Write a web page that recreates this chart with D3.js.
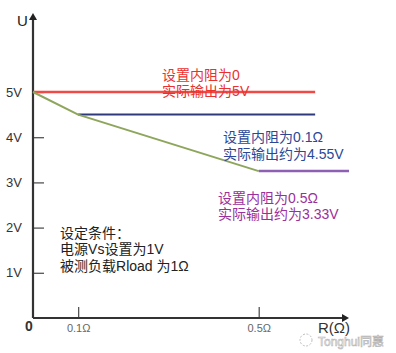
<!DOCTYPE html>
<html lang="zh">
<head>
<meta charset="UTF-8">
<script src="https://d3js.org/d3.v7.min.js"></script>
<style>
  body { margin: 0; background: #fff; }
  text { font-family: "Liberation Sans", Arial, "Noto Sans CJK SC", sans-serif; }
</style>
</head>
<body>
<div id="chart"></div>
<script>
// data (R in ohm, U in volt)
const yTicks = [1, 2, 3, 4, 5];
const yTickLabels = ["1V", "2V", "3V", "4V", "5V"];
const xTicks = [0.1, 0.5];
const xTickLabels = ["0.1Ω", "0.5Ω"];

const curveR = [0, 0.1, 0.5];
const curveU = [5, 4.5, 3.25];

const redR = [0, 0.625];
const redU = [5, 5];
const blueR = [0.1, 0.625];
const blueU = [4.5, 4.5];
const purpleR = [0.5, 0.7];
const purpleU = [3.25, 3.25];

const notes = [
  { lines: ["设置内阻为0", "实际输出为5V"], r: 0.286, u: 5.38, color: "#e8322e" },
  { lines: ["设置内阻为0.1Ω", "实际输出约为4.55V"], r: 0.421, u: 4.0, color: "#2c4796" },
  { lines: ["设置内阻为0.5Ω", "实际输出约为3.33V"], r: 0.41, u: 2.66, color: "#9b2f9b" },
  { lines: ["设定条件：", "电源Vs设置为1V", "被测负载Rload 为1Ω"], r: 0.06, u: 1.88, color: "#222" }
];

const W = 396, H = 353;
const svg = d3.select("#chart").append("svg")
  .attr("width", W).attr("height", H);

const x = d3.scaleLinear().domain([0, 0.7]).range([33, 349]);
const y = d3.scaleLinear().domain([0, 5]).range([318, 92]);

// axes
const yAxis = svg.append("g")
  .attr("transform", "translate(" + x(0) + ",0)")
  .call(d3.axisLeft(y).tickValues(yTicks)
    .tickFormat((d, i) => yTickLabels[i])
    .tickSizeInner(-11).tickSizeOuter(0).tickPadding(11));
yAxis.select(".domain").remove();
yAxis.selectAll("line").attr("stroke", "#555").attr("stroke-width", 1.3);
yAxis.selectAll("text").attr("font-size", 13).attr("fill", "#333")
  .attr("font-family", "Liberation Sans, Arial, sans-serif");

const xAxis = svg.append("g")
  .attr("transform", "translate(0," + y(0) + ")")
  .call(d3.axisBottom(x).tickValues(xTicks)
    .tickFormat((d, i) => xTickLabels[i])
    .tickSizeInner(-11).tickSizeOuter(0).tickPadding(6));
xAxis.select(".domain").remove();
xAxis.selectAll("line").attr("stroke", "#555").attr("stroke-width", 1.3);
xAxis.selectAll("text").attr("font-size", 11).attr("fill", "#666")
  .attr("font-family", "Liberation Sans, Arial, sans-serif");

// axis lines with arrows
const yTop = y(6.75), xEnd = x(0.7);
svg.append("path")
  .attr("d", "M" + x(0) + "," + y(0) + "V" + (yTop + 4) + "M" + x(0) + "," + y(0) + "H" + (xEnd - 3))
  .attr("fill", "none").attr("stroke", "#333").attr("stroke-width", 2.2);
svg.append("path")
  .attr("d", "M" + x(0) + "," + yTop + "l-4,7h8z")
  .attr("fill", "#222");
svg.append("path")
  .attr("d", "M" + xEnd + "," + y(0) + "l-7,-4v8z")
  .attr("fill", "#222");

svg.append("text").attr("x", 17).attr("y", 26).attr("font-size", 15).attr("fill", "#222").text("U");
svg.append("text").attr("x", 25).attr("y", 331).attr("font-size", 14).attr("font-weight", "bold").attr("fill", "#333").text("0");
svg.append("text").attr("x", 318).attr("y", 333).attr("font-size", 15).attr("fill", "#333").text("R(Ω)");

// data lines
const line = d3.line().x(d => x(d[0])).y(d => y(d[1]));
const series = [
  { r: redR, u: redU, color: "#ef4a45", w: 2.5 },
  { r: blueR, u: blueU, color: "#2f3a7c", w: 2 },
  { r: curveR, u: curveU, color: "#8ea65c", w: 2 },
  { r: purpleR, u: purpleU, color: "#8e60b4", w: 2.5 }
];
svg.selectAll("path.series")
  .data(series)
  .enter()
  .append("path")
    .attr("class", "series")
    .attr("d", s => line(s.r.map((r, i) => [r, s.u[i]])))
    .attr("fill", "none")
    .attr("stroke", s => s.color)
    .attr("stroke-width", s => s.w);

// annotations
notes.forEach(n => {
  const t = svg.append("text")
    .attr("x", x(n.r)).attr("y", y(n.u))
    .attr("font-size", 14).attr("fill", n.color);
  n.lines.forEach((s, i) => {
    t.append("tspan").attr("x", x(n.r)).attr("dy", i === 0 ? "0.35em" : 16.5).text(s);
  });
});

// watermark
const wm = svg.append("g").attr("opacity", 0.75);
wm.append("circle").attr("cx", 306).attr("cy", 340).attr("r", 6)
  .attr("fill", "none").attr("stroke", "#aaa").attr("stroke-dasharray", "2,1.5");
wm.append("text").attr("x", 318).attr("y", 346).attr("font-size", 12)
  .attr("fill", "#fff").attr("stroke", "#999").attr("stroke-width", 0.6)
  .text("Tonghui同惠");
</script>
</body>
</html>
